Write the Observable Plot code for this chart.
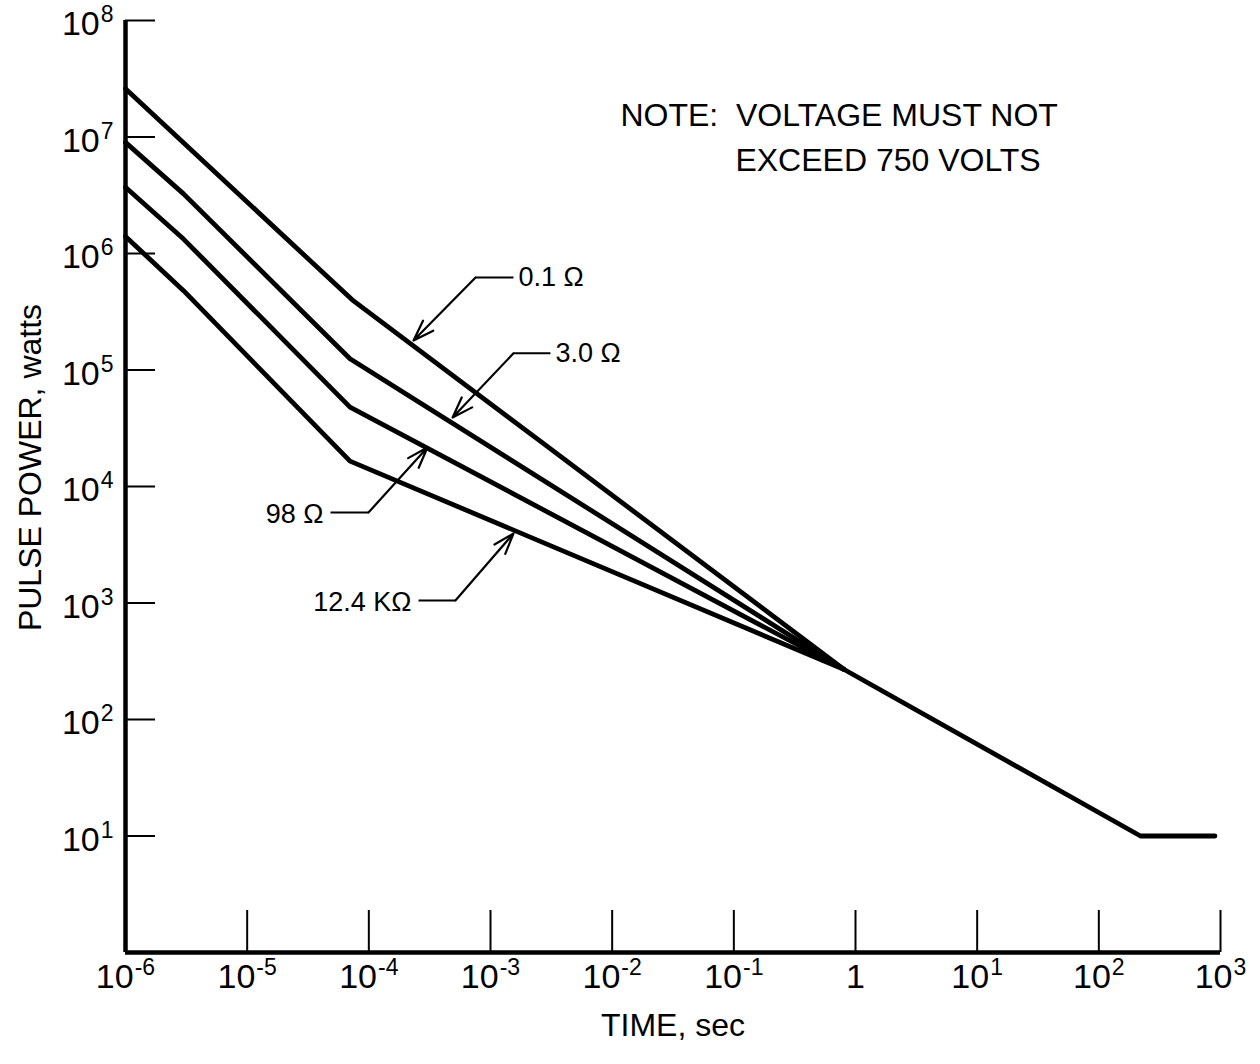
<!DOCTYPE html>
<html><head><meta charset="utf-8">
<script src="https://cdn.jsdelivr.net/npm/d3@7"></script>
<script src="https://cdn.jsdelivr.net/npm/@observablehq/plot@0.6"></script>
<style>
body{margin:0;background:#fff;}
#chart svg{display:block;}
</style></head><body><div id="chart"></div>
<script>
// ---- data ----
const seriesNames = ["0.1 Ω", "3.0 Ω", "98 Ω", "12.4 KΩ"];

const time01  = [1e-6, 7.3e-5, 2.5e-3, 0.8];
const power01 = [2.6e7, 4e5, 2.5e4, 270];

const time3   = [1e-6, 3e-6, 7e-5, 0.8];
const power3  = [9e6, 3.25e6, 1.25e5, 270];

const time98  = [1e-6, 3e-6, 7e-5, 0.8];
const power98 = [3.7e6, 1.33e6, 4.8e4, 270];

const time12k  = [1e-6, 3e-6, 7e-5, 0.8];
const power12k = [1.4e6, 4.8e5, 1.65e4, 270];

// common tail shared by all curves
const timeTail  = [0.8, 220, 900];
const powerTail = [270, 10, 10];

const xTickValues = [1e-6, 1e-5, 1e-4, 1e-3, 1e-2, 1e-1, 1, 1e1, 1e2, 1e3];
const yTickValues = [1e1, 1e2, 1e3, 1e4, 1e5, 1e6, 1e7, 1e8];

// annotation leaders: label end, elbow, arrow tip
const leaderTimeFar   = [1.545e-3, 3.11e-3, 4.84e-5, 2.56e-4];
const leaderTimeElbow = [7.54e-4, 1.545e-3, 9.93e-5, 5.15e-4];
const leaderPower     = [6.22e5, 1.39e5, 5.98e3, 1.05e3];
const leaderTimeTip   = [2.33e-4, 4.88e-4, 3.03e-4, 1.545e-3];
const leaderPowerTip  = [1.79e5, 3.91e4, 2.16e4, 3.95e3];

const noteLines = ["NOTE:\u00a0 VOLTAGE MUST NOT", "EXCEED 750 VOLTS"];
const noteTime  = [1.17e-2, 0.103];
const notePower = [1.53e7, 6.29e6];

const xTitle = "TIME, sec";
const yTitle = "PULSE POWER, watts";

// ---- build tables ----
const rows = [];
function addSeries(name, ts, ps) { ts.forEach((t, i) => rows.push({series: name, t, p: ps[i]})); }
addSeries(seriesNames[0], time01, power01);
addSeries(seriesNames[1], time3, power3);
addSeries(seriesNames[2], time98, power98);
addSeries(seriesNames[3], time12k, power12k);
addSeries("tail", timeTail, powerTail);

const leaders = seriesNames.map((s, i) => ({
  series: s, tFar: leaderTimeFar[i], tElbow: leaderTimeElbow[i], p: leaderPower[i],
  tTip: leaderTimeTip[i], pTip: leaderPowerTip[i], side: i < 2 ? "right" : "left"
}));
const notes = noteLines.map((s, i) => ({text: s, t: noteTime[i], p: notePower[i]}));

const fmt = d => { const e = Math.round(Math.log10(d)); return e === 0 ? "1" : "10^" + e; };
const font = "'Liberation Sans', Arial, Helvetica, sans-serif";

const chart = Plot.plot({
  width: 1260, height: 1064,
  marginLeft: 125, marginRight: 40, marginTop: 20, marginBottom: 112,
  style: {fontFamily: font, background: "#fff", color: "#000", overflow: "visible"},
  x: {type: "log", domain: [1e-6, 1e3]},
  y: {type: "log", domain: [1, 1e8]},
  marks: [
    // tick marks pointing inward
    Plot.axisY({ticks: yTickValues, tickSize: 30, dx: 30, strokeWidth: 2, tickFormat: () => "", label: null}),
    Plot.axisX({ticks: xTickValues.slice(1), tickSize: 42, dy: -42, strokeWidth: 2, tickFormat: () => "", label: null}),
    // tick labels
    Plot.axisY({ticks: yTickValues, tickSize: 0, tickPadding: 12, dy: 4, tickFormat: fmt, fontSize: 34, label: null}),
    Plot.axisX({ticks: xTickValues, tickSize: 0, tickPadding: 11, tickFormat: fmt, fontSize: 34, label: null}),
    // axis lines
    Plot.ruleX([1e-6], {stroke: "#000", strokeWidth: 4.5}),
    Plot.ruleY([1], {stroke: "#000", strokeWidth: 4.5}),
    // curves
    Plot.line(rows, {x: "t", y: "p", z: "series", stroke: "#000", strokeWidth: 4.8,
      strokeLinejoin: "round", strokeLinecap: "round"}),
    // leaders
    Plot.link(leaders, {x1: "tFar", y1: "p", x2: "tElbow", y2: "p", stroke: "#000", strokeWidth: 2}),
    Plot.arrow(leaders, {x1: "tElbow", y1: "p", x2: "tTip", y2: "pTip", stroke: "#000", strokeWidth: 2.2,
      headLength: 15, headAngle: 38}),
    Plot.text(leaders.filter(d => d.side === "right"), {x: "tFar", y: "p", text: "series",
      textAnchor: "start", dx: 5, fontSize: 27, fill: "#000"}),
    Plot.text(leaders.filter(d => d.side === "left"), {x: "tFar", y: "p", text: "series",
      textAnchor: "end", dx: -7, dy: 2, fontSize: 27, fill: "#000"}),
    // note
    Plot.text(notes, {x: "t", y: "p", text: "text", textAnchor: "start", fontSize: 32, fill: "#000"}),
    // axis titles
    Plot.text([xTitle], {frameAnchor: "bottom", dy: 83, fontSize: 32, fill: "#000"}),
    Plot.text([yTitle], {frameAnchor: "left", textAnchor: "middle", rotate: -90, dx: -95, dy: -19, fontSize: 32, fill: "#000"})
  ]
});

// render superscripts in tick labels
d3.select(chart).selectAll("text").each(function() {
  const el = d3.select(this);
  const s = el.text();
  if (!/^10\^-?\d+$/.test(s)) return;
  const exp = s.split("^")[1];
  el.text("");
  el.append("tspan").text("10");
  el.append("tspan").attr("dy", -13).attr("dx", 1).attr("font-size", 23).text(exp);
});

document.getElementById("chart").appendChild(chart);
</script>
</body></html>
